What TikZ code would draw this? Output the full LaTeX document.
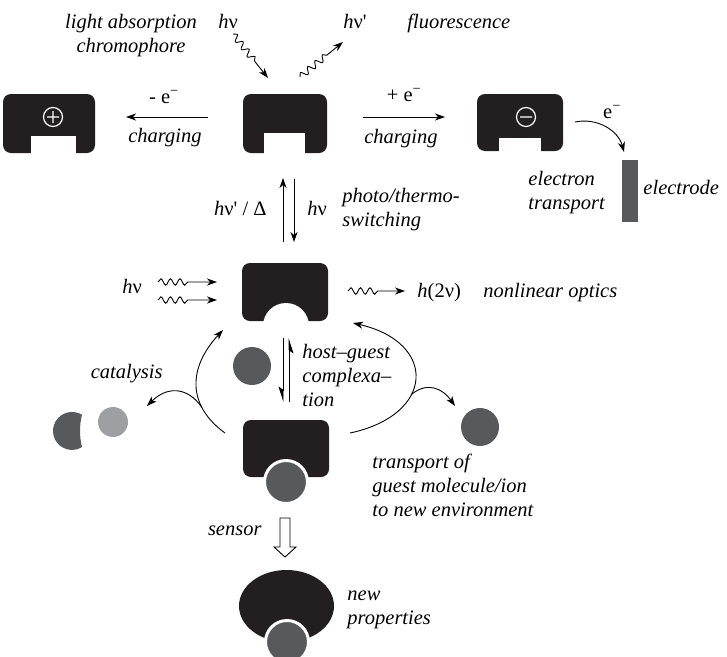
\documentclass[tikz,border=0pt]{standalone}
\usepackage{fontspec}
\setmainfont{Liberation Serif}
\usetikzlibrary{arrows.meta, decorations.pathmorphing}
\definecolor{hostblack}{HTML}{231F20}
\definecolor{guestgray}{HTML}{58595B}
\definecolor{catgray}{HTML}{9D9FA2}
\newcommand{\lblfont}{\fontsize{20.5}{24}\selectfont}
\newcommand{\hnu}{\textit{h}\textup{ν}}

\begin{document}
\begin{tikzpicture}[x=1pt, y=-1pt, line width=0.9pt,
  >={Stealth[length=10pt, width=7pt, inset=3pt]},
  lbl/.style={font=\lblfont\itshape, inner sep=0pt},
  uplbl/.style={font=\lblfont, inner sep=0pt},
  hgtip/.style={-{Stealth[harpoon, swap, length=14pt, width=9pt, inset=3pt]}},
  wave/.style={decorate, decoration={snake, amplitude=3.2pt, segment length=9.5pt, post length=#1}}]
  \useasboundingbox (0,0) rectangle (727,656);

  % Neutral host
  \fill[hostblack, rounded corners=8pt] (243,94) rectangle (327,153);
  \fill[white] (264,133) rectangle (305,154);
  % Oxidised host
  \fill[hostblack, rounded corners=8pt] (3,94) rectangle (95,153);
  \fill[white] (31,136) rectangle (76,154);
  \draw[white, line width=1.2pt] (53,117) circle (9.5) (47,117) -- (59,117) (53,111) -- (53,123);
  % Reduced host
  \fill[hostblack, rounded corners=8pt] (477,94) rectangle (563,151);
  \fill[white] (499,138) rectangle (541,152);
  \draw[white, line width=1.2pt] (526,117) circle (9.5) (520,117) -- (532,117);
  % Electrode
  \fill[guestgray] (622,160) rectangle (638,222);

  % Switched host with round cavity
  \fill[hostblack, rounded corners=8pt] (242,263) rectangle (328,321);
  \fill[white] (286,326) circle (23);
  \fill[guestgray] (252,366) circle (19);

  % Host-guest complex
  \fill[hostblack, rounded corners=8pt] (243,420) rectangle (329,477);
  \filldraw[guestgray, draw=white, line width=3pt] (286,482) circle (21.5);

  % Catalysis products
  \fill[guestgray] (82,414.8) arc[start angle=-58.3, end angle=-301.7, radius=19]
    arc[start angle=165.9, end angle=194.1, radius=66.6] -- cycle;
  \fill[catgray] (113,422) circle (15);
  % Transported guest
  \fill[guestgray] (480,427) circle (19);

  % New properties
  \fill[hostblack] (286.5,606) ellipse [x radius=47.5, y radius=36];
  \filldraw[guestgray, draw=white, line width=3pt] (287,642) circle (21.5);

  % Sensor arrow
  \draw[fill=white] (280,518) -- (290,518) -- (290,547) -- (296,547) -- (285,557)
    -- (274,547) -- (280,547) -- cycle;

  % Arrow ends
  \coordinate (absfrom) at (233,34);  \coordinate (absto) at (268,78);
  \coordinate (flfrom) at (300,77);   \coordinate (flto) at (343,42);
  \coordinate (oxfrom) at (208,117);  \coordinate (oxto) at (126,117);
  \coordinate (redfrom) at (363,117); \coordinate (redto) at (445,117);
  \coordinate (etfrom) at (575,122);  \coordinate (etto) at (624,152);
  \coordinate (swupfrom) at (283,242); \coordinate (swupto) at (283,178);
  \coordinate (swdnfrom) at (294,179); \coordinate (swdnto) at (294,242);
  \coordinate (nlafrom) at (158,282); \coordinate (nlato) at (217,282);
  \coordinate (nlbfrom) at (158,300); \coordinate (nlbto) at (217,300);
  \coordinate (shgfrom) at (348,291); \coordinate (shgto) at (405,291);
  \coordinate (hgdnfrom) at (283,338); \coordinate (hgdnto) at (283,402);
  \coordinate (hgupfrom) at (289,402); \coordinate (hgupto) at (289,338);
  \coordinate (catfrom) at (225,433); \coordinate (catto) at (223,330);
  \coordinate (catprod) at (147,406);
  \coordinate (trfrom) at (350,433);  \coordinate (trto) at (353,323);
  \coordinate (trprod) at (455,406);

  % Light in and out
  \draw[->, wave=18pt] (absfrom) -- (absto);
  \draw[->, wave=18pt] (flfrom) -- (flto);
  % Charging
  \draw[->] (oxfrom) -- (oxto);
  \draw[->] (redfrom) -- (redto);
  \draw[->] (etfrom) to[out=12, in=105] (etto);
  % Switching
  \draw[->] (swupfrom) -- (swupto);
  \draw[->] (swdnfrom) -- (swdnto);
  % Nonlinear optics
  \draw[->, wave=27pt] (nlafrom) -- (nlato);
  \draw[->, wave=27pt] (nlbfrom) -- (nlbto);
  \draw[->, wave=25pt] (shgfrom) -- (shgto);
  % Complexation
  \draw[hgtip] (hgdnfrom) -- (hgdnto);
  \draw[hgtip] (hgupfrom) -- (hgupto);
  \draw[->] (catfrom) to[out=144, in=-133, out distance=47.5pt, in distance=51pt]
    coordinate[pos=0.28] (catfork) (catto);
  \draw[->] (catfork) to[out=125, in=45, looseness=1.25] (catprod);
  \draw[->] (trfrom) to[out=12, in=-13, out distance=87pt, in distance=87pt]
    coordinate[pos=0.38] (trfork) (trto);
  \draw[->] (trfork) to[out=40, in=125, looseness=1.2] (trprod);

  % Labels
  \node[lbl, align=center, anchor=north] (absorb) at (131,11.2) {\strut light absorption\\chromophore};
  \node[lbl, anchor=base west] (hvin) at (218,28) {\hnu};
  \node[lbl, anchor=base west] (hvout) at (343,28) {\hnu\textup{\textquotesingle}};
  \node[lbl, anchor=base west] (fluor) at (407,28) {fluorescence};
  \node[uplbl, anchor=base] (minuse) at (164,103) {- e\textsuperscript{−}};
  \node[lbl, anchor=base] (chargeL) at (165,142) {charging};
  \node[uplbl, anchor=base] (pluse) at (404,101) {+ e\textsuperscript{−}};
  \node[lbl, anchor=base] (chargeR) at (401,143) {charging};
  \node[uplbl, anchor=base] (etlbl) at (612,118) {e\textsuperscript{−}};
  \node[lbl, align=left, anchor=north west] (ettrans) at (528,168.2) {\strut electron\\transport};
  \node[lbl, anchor=base west] (electrode) at (643,194) {electrode};
  \node[lbl, anchor=base east] (backlbl) at (267,215) {\hnu\textup{\textquotesingle\ / Δ}};
  \node[lbl, anchor=base west] (fwdlbl) at (307,215) {\hnu};
  \node[lbl, align=left, anchor=north west] (switch) at (342,185.2) {\strut photo/thermo-\\switching};
  \node[lbl, anchor=base west] (hvnl) at (122,293) {\hnu};
  \node[lbl, anchor=base west] (shg) at (417,297) {\textit{h}\textup{(2ν)}};
  \node[lbl, anchor=base west] (nlo) at (483,297) {nonlinear optics};
  \node[lbl, align=left, anchor=north west] (hostguest) at (302,341.2) {\strut host–guest\\complexa–\\tion};
  \node[lbl, anchor=base east] (catal) at (163,378) {catalysis};
  \node[lbl, align=left, anchor=north west] (transp) at (372,451.2) {\strut transport of\\guest molecule/ion\\to new environment};
  \node[lbl, anchor=base east] (sensor) at (262,535) {sensor};
  \node[lbl, align=left, anchor=north west] (newprop) at (347,583.2) {\strut new\\properties};
\end{tikzpicture}
\end{document}
